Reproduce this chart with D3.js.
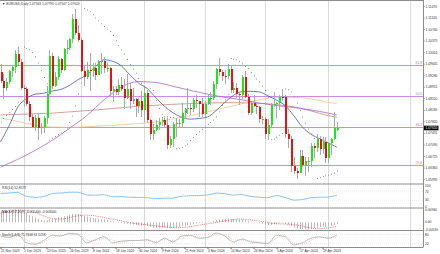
<!DOCTYPE html>
<html lang="en">
<head>
<meta charset="UTF-8">
<title>EURUSD,Daily</title>
<script src="https://cdn.jsdelivr.net/npm/d3@7/dist/d3.min.js"></script>
<style>
  body { margin: 0; background: #fff; }
  svg { display: block; }
  text { font-family: "Liberation Sans", Arial, sans-serif; font-size: 3.3px; fill: #333; }
</style>
</head>
<body>
<div id="chart"></div>
<script>
// daily bars, 21 Nov 2023 .. 6 May 2024
const open = [
  1.0939,1.0911,1.0887,1.0906,1.0940,1.0954,1.0995,1.0970,1.0888,1.0883,
  1.0836,1.0796,1.0765,1.0793,1.0762,1.0763,1.0794,1.0870,1.0990,1.0895,
  1.0922,1.0980,1.0943,1.1012,1.1013,1.1042,1.1105,1.1062,1.1039,1.0942,
  1.0921,1.0946,1.0941,1.0950,1.0930,1.0972,1.0973,1.0950,1.0951,1.0878,
  1.0883,1.0874,1.0897,1.0884,1.0855,1.0883,1.0845,1.0854,1.0832,1.0845,
  1.0818,1.0873,1.0786,1.0742,1.0755,1.0772,1.0779,1.0785,1.0772,1.0708,
  1.0727,1.0773,1.0777,1.0777,1.0808,1.0820,1.0823,1.0821,1.0850,1.0845,
  1.0837,1.0804,1.0838,1.0855,1.0857,1.0901,1.0947,1.0937,1.0927,1.0925,
  1.0948,1.0882,1.0886,1.0868,1.0865,1.0922,1.0860,1.0808,1.0840,1.0830,
  1.0826,1.0790,1.0790,1.0743,1.0770,1.0835,1.0838,1.0839,1.0860,1.0858,
  1.0742,1.0727,1.0642,1.0625,1.0619,1.0672,1.0643,1.0655,1.0655,1.0704,
  1.0698,1.0727,1.0693,1.0718,1.0666,1.0714,1.0727,1.0756];
const high = [
  1.0965,1.0933,1.0918,1.0945,1.0960,1.1009,1.1017,1.0980,1.0897,1.0890,
  1.0845,1.0806,1.0802,1.0804,1.0778,1.0800,1.0895,1.1009,1.0997,1.0937,
  1.0988,1.0983,1.1015,1.1040,1.1045,1.1122,1.1139,1.1087,1.1046,1.0957,
  1.0971,1.0998,1.0967,1.0966,1.0977,1.0999,1.0985,1.0966,1.0954,1.0893,
  1.0893,1.0915,1.0921,1.0915,1.0933,1.0904,1.0886,1.0856,1.0856,1.0877,
  1.0886,1.0880,1.0790,1.0775,1.0785,1.0792,1.0796,1.0794,1.0794,1.0736,
  1.0780,1.0792,1.0789,1.0839,1.0825,1.0888,1.0839,1.0856,1.0864,1.0847,
  1.0856,1.0845,1.0867,1.0876,1.0910,1.0952,1.0981,1.0945,1.0943,1.0964,
  1.0959,1.0907,1.0904,1.0872,1.0929,1.0942,1.0867,1.0843,1.0865,1.0838,
  1.0831,1.0800,1.0796,1.0790,1.0840,1.0876,1.0843,1.0866,1.0885,1.0865,
  1.0757,1.0736,1.0669,1.0633,1.0691,1.0690,1.0669,1.0670,1.0714,1.0715,
  1.0743,1.0735,1.0732,1.0734,1.0718,1.0729,1.0812,1.0779];
const low = [
  1.0903,1.0852,1.0879,1.0900,1.0922,1.0934,1.0960,1.0880,1.0828,1.0830,
  1.0784,1.0764,1.0750,1.0723,1.0743,1.0745,1.0774,1.0866,1.0883,1.0890,
  1.0914,1.0934,1.0940,1.0995,1.1008,1.1031,1.1055,1.1033,1.0939,1.0893,
  1.0917,1.0877,1.0922,1.0912,1.0928,1.0931,1.0935,1.0937,1.0862,1.0844,
  1.0865,1.0865,1.0878,1.0822,1.0852,1.0822,1.0836,1.0795,1.0809,1.0795,
  1.0779,1.0777,1.0723,1.0722,1.0751,1.0755,1.0766,1.0761,1.0695,1.0698,
  1.0700,1.0732,1.0763,1.0761,1.0790,1.0805,1.0802,1.0812,1.0824,1.0796,
  1.0796,1.0795,1.0834,1.0834,1.0851,1.0883,1.0925,1.0911,1.0901,1.0916,
  1.0873,1.0871,1.0857,1.0835,1.0853,1.0855,1.0802,1.0802,1.0826,1.0804,
  1.0776,1.0775,1.0726,1.0724,1.0761,1.0826,1.0792,1.0819,1.0846,1.0728,
  1.0699,1.0622,1.0614,1.0601,1.0617,1.0637,1.0610,1.0623,1.0637,1.0665,
  1.0686,1.0675,1.0680,1.0650,1.0650,1.0677,1.0723,1.0751];
const close = [
  1.0911,1.0887,1.0906,1.0940,1.0954,1.0995,1.0970,1.0888,1.0883,1.0836,
  1.0796,1.0765,1.0793,1.0762,1.0763,1.0794,1.0870,1.0990,1.0895,1.0922,
  1.0980,1.0943,1.1012,1.1013,1.1042,1.1105,1.1062,1.1039,1.0942,1.0921,
  1.0946,1.0941,1.0950,1.0930,1.0972,1.0973,1.0950,1.0951,1.0878,1.0883,
  1.0874,1.0897,1.0884,1.0855,1.0883,1.0845,1.0854,1.0832,1.0845,1.0818,
  1.0873,1.0786,1.0742,1.0755,1.0772,1.0779,1.0785,1.0772,1.0708,1.0727,
  1.0773,1.0777,1.0777,1.0808,1.0820,1.0823,1.0821,1.0850,1.0845,1.0837,
  1.0804,1.0838,1.0855,1.0857,1.0901,1.0947,1.0937,1.0927,1.0925,1.0948,
  1.0882,1.0886,1.0868,1.0865,1.0922,1.0860,1.0808,1.0840,1.0830,1.0826,
  1.0790,1.0790,1.0743,1.0770,1.0835,1.0838,1.0839,1.0860,1.0858,1.0742,
  1.0727,1.0642,1.0625,1.0619,1.0672,1.0643,1.0655,1.0655,1.0704,1.0698,
  1.0727,1.0693,1.0718,1.0666,1.0714,1.0727,1.0761,1.0761];

// parabolic SAR, one dot per bar
const sar = [
  1.0780,1.0791,1.0801,1.0811,1.0820,1.0829,1.0843,1.0860,1.1017,1.1013,
  1.1009,1.1000,1.0986,1.0967,1.0943,1.0921,1.0901,1.0723,1.0729,1.0734,
  1.0740,1.0745,1.0750,1.0761,1.0778,1.0799,1.0831,1.0868,1.0901,1.1139,
  1.1134,1.1129,1.1119,1.1109,1.1100,1.1091,1.1082,1.1074,1.1066,1.1054,
  1.1037,1.1022,1.1008,1.0995,1.0978,1.0962,1.0948,1.0935,1.0918,1.0903,
  1.0890,1.0886,1.0886,1.0880,1.0848,1.0823,1.0803,1.0796,1.0796,1.0794,
  1.0794,1.0695,1.0697,1.0699,1.0705,1.0710,1.0721,1.0731,1.0740,1.0749,
  1.0757,1.0765,1.0772,1.0779,1.0786,1.0796,1.0812,1.0832,1.0850,1.0866,
  1.0981,1.0979,1.0977,1.0972,1.0964,1.0956,1.0949,1.0937,1.0926,1.0916,
  1.0907,1.0894,1.0880,1.0858,1.0724,1.0726,1.0732,1.0738,1.0743,1.0885,
  1.0882,1.0875,1.0860,1.0840,1.0816,1.0795,1.0776,1.0758,1.0742,1.0728,
  1.0601,1.0604,1.0607,1.0610,1.0612,1.0615,1.0618,1.0626];

// moving averages read at sample bars
const fastBars = [0,3,6,9,12,15,18,21,24,27,30,33,36,39,42,45,48,51,54,57,
                  60,63,66,69,72,75,78,81,84,87,90,93,96,99,102,105,108,111,114,117];
const ma20 = [1.0717,1.0768,1.0827,1.0854,1.0868,1.0871,1.0878,1.0883,1.0896,1.0914,
              1.0929,1.0954,1.0977,1.0972,1.0958,1.0929,1.0903,1.0886,1.0857,1.0830,
              1.0809,1.0795,1.0789,1.0791,1.0796,1.0816,1.0842,1.0864,1.0876,1.0877,
              1.0875,1.0863,1.0849,1.0832,1.0800,1.0764,1.0741,1.0727,1.0714,1.0700];
const slowBars = [0,6,12,18,24,30,36,42,48,54,60,66,72,78,84,90,96,102,108,114,117];
const ma50  = [1.0637,1.0662,1.0690,1.0722,1.0760,1.0800,1.0850,1.0890,1.0908,1.0905,1.0893,
               1.0880,1.0868,1.0858,1.0850,1.0840,1.0832,1.0826,1.0818,1.0808,1.0802];
const ma100 = [1.0793,1.0782,1.0770,1.0764,1.0763,1.0765,1.0768,1.0771,1.0775,1.0780,1.0790,
               1.0800,1.0812,1.0825,1.0838,1.0850,1.0858,1.0858,1.0853,1.0842,1.0838];
const ma200 = [1.0802,1.0804,1.0806,1.0808,1.0812,1.0816,1.0820,1.0825,1.0830,1.0833,1.0836,
               1.0838,1.0840,1.0841,1.0841,1.0839,1.0835,1.0828,1.0815,1.0800,1.0795];

// fibonacci retracement anchors and levels
const fibLow = 1.04483, fibHigh = 1.12757;
const fibLevels = [0.236, 0.382, 0.5, 0.618];

// oscillators
const rsi = [62,64,68,48,43,47,62,64,68,68,55,54,56,46,47,44,43,42,38,39,
             40,49,51,52,55,64,61,54,57,48,44,42,53,43,30,33,42,44,45,53];
const stochMain = [70,60,80,25,15,40,75,70,88,80,25,45,65,25,35,40,40,45,25,55,
                   30,70,75,55,60,90,70,30,50,30,25,20,75,65,10,25,55,65,55,76];
const stochSignal = [72,64,72,45,20,30,60,72,80,84,45,38,55,42,30,38,40,43,33,45,
                     40,55,72,63,58,78,80,45,42,38,28,22,55,72,25,17,42,60,60,62];
const macd = [
  0.0086,0.0086,0.0087,0.0089,0.0091,0.0094,0.0094,0.0086,0.0079,0.0069,
  0.0056,0.0044,0.0035,0.0025,0.0017,0.0012,0.0014,0.0025,0.0025,0.0029,
  0.0035,0.0037,0.0044,0.0048,0.0054,0.0062,0.0064,0.0064,0.0055,0.0046,
  0.0041,0.0035,0.0032,0.0027,0.0026,0.0025,0.0022,0.0019,0.0012,0.0006,
  0.0000,-0.0003,-0.0006,-0.0010,-0.0011,-0.0015,-0.0017,-0.0021,-0.0022,-0.0025,
  -0.0023,-0.0027,-0.0034,-0.0038,-0.0039,-0.0040,-0.0039,-0.0039,-0.0043,-0.0044,
  -0.0041,-0.0038,-0.0035,-0.0030,-0.0025,-0.0021,-0.0018,-0.0012,-0.0008,-0.0005,
  -0.0006,-0.0003,0.0000,0.0002,0.0008,0.0016,0.0021,0.0024,0.0026,0.0029,
  0.0026,0.0024,0.0021,0.0017,0.0019,0.0015,0.0008,0.0005,0.0001,-0.0001,
  -0.0006,-0.0010,-0.0017,-0.0020,-0.0017,-0.0014,-0.0011,-0.0008,-0.0005,-0.0012,
  -0.0018,-0.0029,-0.0039,-0.0047,-0.0049,-0.0052,-0.0053,-0.0052,-0.0048,-0.0044,
  -0.0039,-0.0036,-0.0032,-0.0033,-0.0030,-0.0026,-0.0019,-0.0014];
const macdSignal = [
  0.0068,0.0073,0.0077,0.0080,0.0083,0.0086,0.0088,0.0089,0.0088,0.0086,
  0.0083,0.0078,0.0072,0.0065,0.0056,0.0047,0.0039,0.0033,0.0028,0.0025,
  0.0024,0.0024,0.0026,0.0030,0.0035,0.0040,0.0044,0.0049,0.0051,0.0053,
  0.0053,0.0052,0.0050,0.0047,0.0043,0.0039,0.0034,0.0030,0.0027,0.0023,
  0.0019,0.0015,0.0011,0.0007,0.0003,-0.0001,-0.0005,-0.0009,-0.0012,-0.0014,
  -0.0017,-0.0019,-0.0022,-0.0025,-0.0027,-0.0030,-0.0032,-0.0034,-0.0036,-0.0038,
  -0.0040,-0.0040,-0.0040,-0.0039,-0.0037,-0.0035,-0.0033,-0.0029,-0.0025,-0.0021,
  -0.0018,-0.0014,-0.0011,-0.0008,-0.0005,-0.0001,0.0003,0.0006,0.0010,0.0014,
  0.0017,0.0020,0.0022,0.0023,0.0023,0.0022,0.0021,0.0018,0.0015,0.0012,
  0.0009,0.0005,0.0002,-0.0003,-0.0006,-0.0009,-0.0011,-0.0012,-0.0012,-0.0013,
  -0.0014,-0.0015,-0.0017,-0.0020,-0.0024,-0.0029,-0.0034,-0.0039,-0.0043,-0.0046,
  -0.0047,-0.0047,-0.0045,-0.0043,-0.0041,-0.0038,-0.0034,-0.0030];

// axis labels
const priceTicks = [1.11470,1.11105,1.10740,1.10375,1.10010,1.09645,1.09280,1.08915,
                    1.08550,1.08185,1.07820,1.07455,1.07090,1.06725,1.06360,1.05995];
const dateBars = [0,8,16,24,32,40,48,56,64,72,80,88,96,104,112];
const dateLabels = ["21 Nov 2023","1 Dec 2023","13 Dec 2023","26 Dec 2023","8 Jan 2024",
  "18 Jan 2024","30 Jan 2024","9 Feb 2024","21 Feb 2024","4 Mar 2024","14 Mar 2024",
  "26 Mar 2024","5 Apr 2024","17 Apr 2024","29 Apr 2024"];
const gridBars = [8, 28, 50, 71, 92, 114, 142.5];

const width = 440, height = 254;
const plotW = 423;
// panel tops / bottoms
const mainBox = [0, 184], rsiBox = [184, 208], macdBox = [208, 230.5], stochBox = [230.5, 247.5];

const svg = d3.select("#chart").append("svg")
    .attr("width", width)
    .attr("height", height);

svg.append("rect").attr("width", width).attr("height", height).attr("fill", "#fff");

const x = d3.scaleLinear().domain([0, 112]).range([0.5, 322.5]);
const px = i => Math.round(x(i));
const y = d3.scaleLinear().domain([1.05869, 1.11660]).range([183, 0]);
const yRsi = d3.scaleLinear().domain([0, 100]).range([rsiBox[1] - 1.5, rsiBox[0] + 1.5]);
const macdMax = d3.max(macd.concat(macdSignal)), macdMin = d3.min(macd.concat(macdSignal));
const yMacd = d3.scaleLinear().domain([macdMin, macdMax]).range([macdBox[1] - 1, macdBox[0] + 1.5]);
const yStoch = d3.scaleLinear().domain([0, 100]).range([stochBox[1] - 1, stochBox[0] + 1]);

// month grid lines
svg.append("g").selectAll("line").data(gridBars).join("line")
    .attr("x1", d => px(d) + 0.5).attr("x2", d => px(d) + 0.5)
    .attr("y1", 0).attr("y2", stochBox[1])
    .attr("stroke", "#d9d9d9").attr("stroke-width", 1);

// fibonacci lines
const fibPrice = l => fibLow + l * (fibHigh - fibLow);
const fib = svg.append("g");
fib.selectAll("line").data(fibLevels).join("line")
    .attr("x1", 0).attr("x2", plotW)
    .attr("y1", d => Math.round(y(fibPrice(d))) + 0.5)
    .attr("y2", d => Math.round(y(fibPrice(d))) + 0.5)
    .attr("stroke", "#c98ee3").attr("stroke-width", 1);
fib.selectAll("text").data(fibLevels).join("text")
    .attr("x", plotW - 1).attr("y", d => y(fibPrice(d)) - 0.8)
    .attr("text-anchor", "end")
    .style("fill", "#b070d0")
    .text(d => (d * 100).toFixed(1));

// moving averages
function maLine(bars, vals, color) {
    const line = d3.line()
        .x((d, i) => x(bars[i]))
        .y(d => y(d))
        .curve(d3.curveMonotoneX);
    svg.append("path").datum(vals)
        .attr("d", line)
        .attr("fill", "none")
        .attr("stroke", color)
        .attr("stroke-width", 0.8);
}
maLine(slowBars, ma200, "#c08a80");
maLine(slowBars, ma100, "#f4c08e");
maLine(slowBars, ma50, "#a766c0");
maLine(fastBars, ma20, "#4a58a0");

// candles
const bars = d3.range(close.length);
const candles = svg.append("g").attr("shape-rendering", "crispEdges");
candles.selectAll("line").data(bars).join("line")
    .attr("x1", i => px(i) + 0.5).attr("x2", i => px(i) + 0.5)
    .attr("y1", i => y(high[i])).attr("y2", i => y(low[i]))
    .attr("stroke", "#a8a8a8").attr("stroke-width", 1);
candles.selectAll("rect").data(bars).join("rect")
    .attr("x", i => px(i))
    .attr("width", 2)
    .attr("y", i => y(Math.max(open[i], close[i])))
    .attr("height", i => Math.max(1, Math.abs(y(open[i]) - y(close[i]))))
    .attr("fill", i => close[i] >= open[i] ? "#19e619" : "#e81010");

// parabolic SAR dots
svg.append("g").selectAll("circle").data(bars).join("circle")
    .attr("cx", i => px(i) + 0.5)
    .attr("cy", i => y(sar[i]))
    .attr("r", 0.55)
    .attr("fill", "#8a8a8a");

// header
svg.append("text").attr("x", 2).attr("y", 5)
    .text("\u25BC EURUSD,Daily  1.07563 1.07790 1.07507 1.07613");

// price axis
const yAxis = svg.append("g")
    .attr("transform", `translate(${plotW},0)`)
    .call(d3.axisRight(y).tickValues(priceTicks).tickFormat(d3.format(".5f"))
        .tickSize(1.5).tickPadding(1));
yAxis.select(".domain").remove();
yAxis.selectAll("line").attr("stroke", "#666");
yAxis.selectAll("text").style("font-size", "3.3px").style("fill", "#333");

// current price tag
const last = close[close.length - 1];
svg.append("rect").attr("x", plotW + 0.5).attr("y", y(last) - 2.3)
    .attr("width", 15).attr("height", 4.6).attr("fill", "#000");
svg.append("text").attr("x", plotW + 2.5).attr("y", y(last) + 1.2)
    .style("fill", "#fff").text(last.toFixed(5));

// RSI panel
const rsiG = svg.append("g");
rsiG.selectAll("line").data([70, 30]).join("line")
    .attr("x1", 0).attr("x2", plotW)
    .attr("y1", d => yRsi(d)).attr("y2", d => yRsi(d))
    .attr("stroke", "#d6d6d6").attr("stroke-width", 0.6).attr("stroke-dasharray", "1,1");
rsiG.append("path").datum(rsi)
    .attr("d", d3.line().x((d, i) => x(fastBars[i])).y(d => yRsi(d)))
    .attr("fill", "none").attr("stroke", "#8cc3ea").attr("stroke-width", 1);
rsiG.append("text").attr("x", 2).attr("y", rsiBox[0] + 5)
    .text("RSI(14) " + "52.8579");
rsiG.selectAll("text.lab").data([100, 70, 30, 0]).join("text").attr("class", "lab")
    .attr("x", plotW + 2).attr("y", d => yRsi(d) + 1.1).text(d => d);

// MACD panel
const macdG = svg.append("g");
macdG.selectAll("line").data(bars).join("line")
    .attr("x1", i => px(i) + 0.5).attr("x2", i => px(i) + 0.5)
    .attr("y1", yMacd(0)).attr("y2", i => yMacd(macd[i]))
    .attr("stroke", "#b9b9b9").attr("stroke-width", 1);
macdG.append("path").datum(macdSignal)
    .attr("d", d3.line().x((d, i) => x(i)).y(d => yMacd(d)))
    .attr("fill", "none").attr("stroke", "#f03030").attr("stroke-width", 0.7)
    .attr("stroke-dasharray", "1,1.2");
macdG.append("text").attr("x", 2).attr("y", macdBox[0] + 5)
    .text("MACD(12,26,9) " + macd[macd.length - 1].toFixed(6) + " " + macdSignal[macdSignal.length - 1].toFixed(6));
macdG.selectAll("text.lab").data([macdMax, 0, macdMin]).join("text").attr("class", "lab")
    .attr("x", plotW + 2).attr("y", d => yMacd(d) + 1.1)
    .text(d => d === 0 ? "0.00" : d.toFixed(5));

// Stochastic panel
const stG = svg.append("g");
stG.selectAll("line").data([80, 20]).join("line")
    .attr("x1", 0).attr("x2", plotW)
    .attr("y1", d => yStoch(d)).attr("y2", d => yStoch(d))
    .attr("stroke", "#d6d6d6").attr("stroke-width", 0.6).attr("stroke-dasharray", "1,1");
stG.append("path").datum(stochSignal)
    .attr("d", d3.line().x((d, i) => x(fastBars[i])).y(d => yStoch(d)).curve(d3.curveMonotoneX))
    .attr("fill", "none").attr("stroke", "#e8b0b0").attr("stroke-width", 0.7)
    .attr("stroke-dasharray", "1,1");
stG.append("path").datum(stochMain)
    .attr("d", d3.line().x((d, i) => x(fastBars[i])).y(d => yStoch(d)).curve(d3.curveMonotoneX))
    .attr("fill", "none").attr("stroke", "#bdbdbd").attr("stroke-width", 1);
stG.append("text").attr("x", 2).attr("y", stochBox[0] + 5)
    .text("Stoch(5,3,3) 75.7668 61.5218");
stG.selectAll("text.lab").data([80, 20]).join("text").attr("class", "lab")
    .attr("x", plotW + 2).attr("y", d => yStoch(d) + 1.1).text(d => d);

// panel separators and frame
svg.append("g").selectAll("line").data([0.5, mainBox[1], rsiBox[1], macdBox[1], stochBox[1]]).join("line")
    .attr("x1", 0).attr("x2", plotW)
    .attr("y1", d => d).attr("y2", d => d)
    .attr("stroke", "#8c8c8c").attr("stroke-width", 1);
svg.append("line")
    .attr("x1", plotW + 0.5).attr("x2", plotW + 0.5)
    .attr("y1", 0).attr("y2", stochBox[1])
    .attr("stroke", "#8c8c8c").attr("stroke-width", 1);

// date axis
const xAxis = svg.append("g")
    .attr("transform", `translate(0,${stochBox[1]})`)
    .call(d3.axisBottom(x).tickValues(dateBars).tickFormat((d, i) => dateLabels[i])
        .tickSize(1.5).tickPadding(0.5));
xAxis.select(".domain").remove();
xAxis.selectAll("line").attr("stroke", "#666");
xAxis.selectAll("text").attr("text-anchor", "start")
    .style("font-size", "3.3px").style("fill", "#333");
</script>
</body>
</html>
